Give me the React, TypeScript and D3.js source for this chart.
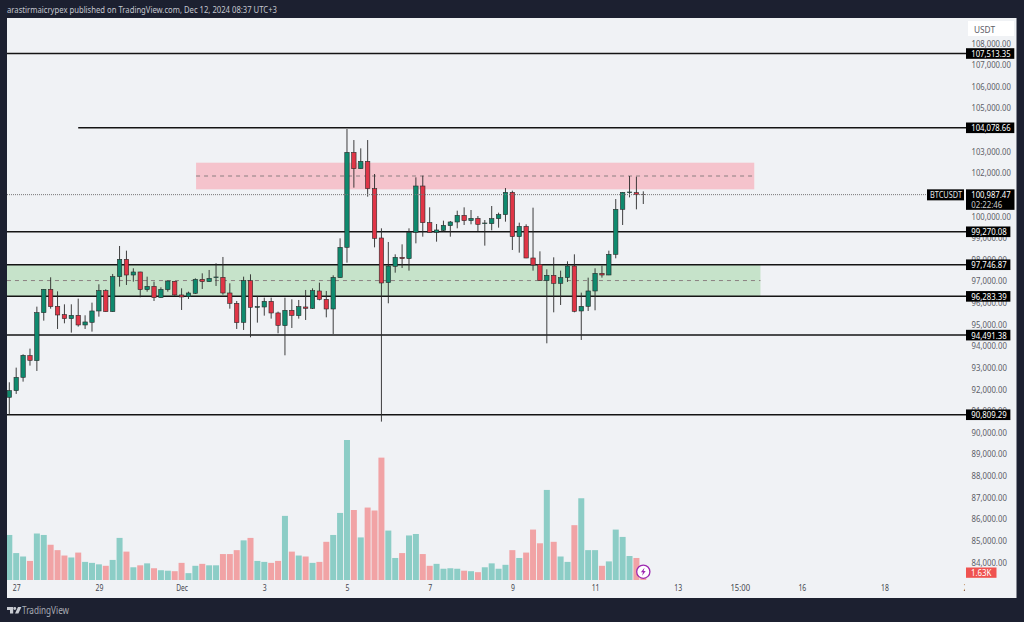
import React, { useEffect, useRef } from 'react';
import * as d3 from 'd3';

// BTCUSDT 4h candles
const opens = [91617,91925,92541,93543,93312,95531,96610,95824,95439,95254,95408,94961,95084,95608,96548,95577,97195,97997,97272,97411,96594,96748,96224,96594,96980,96348,96271,96425,97072,96964,97149,97165,96440,95963,95084,97010,95777,95793,96055,95516,94930,95639,95392,95793,95731,96533,96147,95700,97149,98551,102943,102188,102527,101264,98983,96918,97673,98089,98027,99245,101387,99692,99245,99338,99553,99723,100031,99784,99892,99646,99646,99877,100062,101094,99044,99522,98058,97765,97010,97257,96887,97149,97688,95608,95824,96533,97349,97272,98228,100308,101079,101079,100995];
const closes = [91925,92541,93558,93327,95531,96610,95808,95423,95254,95408,94961,95100,95608,96548,95577,97195,97997,97272,97411,96594,96748,96224,96610,96995,96348,96255,96440,97072,96964,97118,97180,96440,95963,95069,97010,95777,95808,96055,95516,94945,95639,95408,95808,95731,96548,96147,95700,97165,98551,102943,102188,102527,101264,98967,96902,97688,98089,98027,99245,101387,99692,99245,99353,99568,99723,100031,99784,99892,99615,99676,99877,100062,101094,99044,99522,98058,97735,97010,97257,96887,97149,97688,95593,95824,96533,97349,97272,98228,100308,101094,101109,100986,100987.47];
const highs = [92310,92988,93605,93867,95808,96620,97165,96517,95916,95916,96178,95408,95993,96841,96610,97319,98613,98397,97581,97420,97195,96964,96702,97005,96990,96656,96502,97118,97349,97504,97812,98105,96887,96070,97195,97303,96302,96224,96224,95577,96224,96147,96117,96579,96656,96918,96533,97257,98967,104022,103513,103128,103513,101942,99430,98798,98228,98690,99430,101787,101864,100401,99630,99784,99769,100246,100401,100277,100000,99815,100462,100154,101294,101171,99692,99615,100385,98366,97534,98089,97473,97904,98228,96456,97149,97581,97704,98397,100786,101110,101849,101818,101140];
const lows = [90800,91771,92341,93081,92834,95161,95716,94776,95038,94607,94884,94776,94653,95346,95570,95570,96733,96810,96964,96240,96502,96070,96215,96502,96317,95654,96163,96394,96625,96949,96764,96363,95716,94776,94730,94391,95069,95392,95254,94576,93558,94822,95254,95192,95700,96101,95315,94545,97140,97842,101310,102180,100894,98551,90492,95963,97380,97596,97473,98736,99044,99235,98813,99276,99044,99430,99584,99615,99306,98629,99337,99461,99738,98428,98305,98050,97473,97000,94113,95546,95885,96949,95546,94267,95608,95639,97149,97265,98043,99584,100863,100308,100555];
// volume in thousands of BTC
const volumes = [9.2,5.5,4.8,3.9,9.5,9.2,7.2,6.1,5.0,4.6,5.6,3.7,3.5,3.2,2.9,4.1,8.6,5.8,2.6,3.0,3.4,2.4,2.0,1.9,1.8,3.5,1.4,2.9,3.3,3.0,3.0,5.3,5.3,6.1,8.1,8.6,3.9,3.7,3.5,3.9,13.1,5.8,5.0,4.8,3.5,3.7,7.8,9.2,13.7,28.6,14.3,8.7,14.8,14.2,25.0,10.1,4.5,5.5,9.1,9.4,5.3,2.9,3.3,2.3,2.4,2.3,1.9,1.8,1.6,2.6,3.4,2.3,3.1,6.1,4.5,5.6,10.3,7.5,18.4,7.8,4.8,3.7,11.2,16.7,6.1,6.1,2.9,3.8,10.3,8.8,4.9,4.5,1.63];

// drawn horizontal levels: price and the bar index where the line starts
const levelPrices = [107513.35,104078.66,99270.08,97746.87,96283.39,94491.38,90809.29];
const levelStarts = [-1,10,-1,-1,-1,-1,-1];

const priceTicks = d3.range(84000, 108001, 1000);
const timeTickIndex = [1,13,25,37,49,61,73,85,97,106,115,127,139];
const timeTickLabels = ['27','29','Dec','3','5','7','9','11','13','15:00','16','18','20'];

const lastPrice = 100987.47;
const countdown = '02:22:46';
const lastVolumeLabel = '1.63K';
const header = 'arastirmaicrypex published on TradingView.com, Dec 12, 2024 08:37 UTC+3';

const UP = '#0f8a6e';
const DOWN = '#e03546';
const WICK = '#2a2a2a';
const UP_VOL = '#8ccdc6';
const DOWN_VOL = '#f1a3a5';
const FONT = '"Noto Sans", sans-serif';
const CHAR_W = 3.93; // the reference font runs narrow, so text is squeezed to this per character

export default function App() {
  const ref = useRef<SVGSVGElement>(null);

  useEffect(() => {
    const svg = d3.select(ref.current);
    svg.selectAll('*').remove();

    const fmt = d3.format(',.2f');
    const x = d3.scaleLinear().domain([0, 92]).range([9.3, 643.3]);
    const y = d3.scaleLinear().domain([84000, 108000]).range([562, 43]);
    const yVol = d3.scaleLinear().domain([0, 28.6]).range([580, 440]);

    const plotL = 7, plotR = 965, panelR = 1016.5, panelT = 18, panelB = 598;

    const label = (xx: number, yy: number, s: string, fill: string, size: number, w: number, anchor = 'start') =>
      svg.append('text').attr('x', xx).attr('y', yy).attr('fill', fill).attr('text-anchor', anchor)
        .attr('textLength', w).attr('lengthAdjust', 'spacingAndGlyphs')
        .style('font', `${size}px ${FONT}`).text(s);

    svg.append('rect').attr('width', 1024).attr('height', 622).attr('fill', '#1c2030');
    svg.append('rect').attr('x', plotL).attr('y', panelT).attr('width', panelR - plotL).attr('height', panelB - panelT).attr('fill', '#f0f2f5');

    svg.append('clipPath').attr('id', 'plot').append('rect')
      .attr('x', plotL).attr('y', panelT).attr('width', plotR - plotL).attr('height', panelB - panelT);

    label(7, 13, header, '#c4c7cf', 9.4, 270);

    const g = svg.append('g').attr('clip-path', 'url(#plot)');

    // zones
    const zone = (i0: number, i1: number, top: number, bot: number, fill: string) => {
      const mid = (top + bot) / 2;
      g.append('rect').attr('x', x(i0)).attr('width', x(i1) - x(i0))
        .attr('y', y(top)).attr('height', y(bot) - y(top)).attr('fill', fill);
      g.append('line').attr('x1', x(i0)).attr('x2', x(i1)).attr('y1', y(mid)).attr('y2', y(mid))
        .attr('stroke', '#8a7f80').attr('stroke-dasharray', '4 4').attr('stroke-width', 1);
    };
    zone(27.1, 108.1, 102465, 101233, '#f5c3cc');
    zone(-1.5, 109, 97746.87, 96283.39, '#c6e3ca');

    // last price dotted line
    svg.append('line').attr('x1', plotL).attr('x2', 926).attr('y1', y(lastPrice)).attr('y2', y(lastPrice))
      .attr('stroke', '#777').attr('stroke-dasharray', '1 1').attr('stroke-width', 1);

    // volume
    g.selectAll('rect.vol').data(volumes).enter().append('rect')
      .attr('class', 'vol')
      .attr('x', (_, i) => x(i) - 3)
      .attr('width', 6)
      .attr('y', d => yVol(d))
      .attr('height', d => yVol(0) - yVol(d))
      .attr('fill', (_, i) => closes[i] >= opens[i] ? UP_VOL : DOWN_VOL);

    // levels
    g.selectAll('line.level').data(levelPrices).enter().append('line')
      .attr('class', 'level')
      .attr('x1', (_, i) => levelStarts[i] < 0 ? plotL : x(levelStarts[i]))
      .attr('x2', plotR)
      .attr('y1', d => y(d)).attr('y2', d => y(d))
      .attr('stroke', '#141414').attr('stroke-width', 1.5);
    svg.selectAll('line.levelStub').data(levelPrices).enter().append('line')
      .attr('class', 'levelStub')
      .attr('x1', plotR).attr('x2', 967)
      .attr('y1', d => y(d)).attr('y2', d => y(d))
      .attr('stroke', '#141414').attr('stroke-width', 1.5);

    // candles
    const candles = g.append('g').selectAll('g').data(opens).enter().append('g');
    candles.append('line')
      .attr('x1', (_, i) => x(i)).attr('x2', (_, i) => x(i))
      .attr('y1', (_, i) => y(highs[i])).attr('y2', (_, i) => y(lows[i]))
      .attr('stroke', WICK).attr('stroke-width', 0.9);
    candles.append('rect')
      .attr('x', (_, i) => x(i) - 2.2)
      .attr('width', 4.4)
      .attr('y', (_, i) => y(Math.max(opens[i], closes[i])))
      .attr('height', (_, i) => Math.abs(y(opens[i]) - y(closes[i])))
      .attr('fill', (_, i) => closes[i] >= opens[i] ? UP : DOWN)
      .attr('stroke', WICK).attr('stroke-width', 0.6);

    // price axis
    const yAxis = d3.axisRight(y).tickValues(priceTicks).tickSize(0).tickPadding(0).tickFormat(d => fmt(+d));
    const ya = svg.append('g').attr('transform', 'translate(971.5,0)').call(yAxis as any);
    ya.select('.domain').remove();
    ya.selectAll('text').attr('fill', '#5d6068').style('font', `9.6px ${FONT}`)
      .attr('textLength', (d: any) => fmt(d).length * CHAR_W).attr('lengthAdjust', 'spacingAndGlyphs');

    // time axis
    const xAxis = d3.axisBottom(x).tickValues(timeTickIndex).tickSize(0).tickPadding(0)
      .tickFormat((_, i) => timeTickLabels[i]);
    const xa = g.append('g').attr('transform', 'translate(0,584.5)').call(xAxis as any);
    xa.select('.domain').remove();
    xa.selectAll('text').attr('fill', '#44474f').style('font', `9.6px ${FONT}`)
      .attr('textLength', (_: any, i: number) => timeTickLabels[i].length * CHAR_W).attr('lengthAdjust', 'spacingAndGlyphs');

    // USDT box
    svg.append('rect').attr('x', 968).attr('y', 21).attr('width', 46).attr('height', 15).attr('fill', '#fff');
    label(974, 33, 'USDT', '#5d6068', 9.8, 21);

    // level tags
    levelPrices.forEach(p => {
      const s = fmt(p);
      svg.append('rect').attr('x', 966).attr('y', y(p) - 5.3)
        .attr('width', s.length * CHAR_W + 9).attr('height', 10.6).attr('fill', '#000');
      label(971.3, y(p) + 3.4, s, '#fff', 9.6, s.length * CHAR_W);
    });

    // last price tag
    const ly = y(lastPrice);
    svg.append('rect').attr('x', 927).attr('y', ly - 5.3).attr('width', 37).attr('height', 11).attr('fill', '#000');
    label(930, ly + 3.4, 'BTCUSDT', '#e8e8e8', 9.4, 32);
    svg.append('rect').attr('x', 966).attr('y', ly - 5.3).attr('width', 48.5).attr('height', 20.5).attr('fill', '#000');
    label(971.3, ly + 3.4, fmt(lastPrice), '#fff', 9.6, 39.3);
    label(971.3, ly + 13, countdown, '#ccc', 9.4, 31);

    // last volume tag
    svg.append('rect').attr('x', 966).attr('y', 567.5).attr('width', 30.5).attr('height', 10.3).attr('fill', '#ef5350');
    label(971, 575.8, lastVolumeLabel, '#fff', 9.6, 20.5);

    // lightning marker on the last bar
    const ic = svg.append('g').attr('transform', `translate(${x(92)},571.7)`);
    ic.append('circle').attr('r', 6.6).attr('fill', '#fff').attr('stroke', '#9c27b0').attr('stroke-width', 1.3);
    ic.append('path').attr('d', 'M1.2,-4 L-2.4,0.6 L-0.3,0.6 L-1.2,4 L2.4,-0.8 L0.3,-0.8 Z').attr('fill', '#9c27b0');

    // logo
    const logo = svg.append('g').attr('transform', 'translate(7,607)').attr('fill', '#c9ccd3');
    logo.append('path').attr('d', 'M0,0 H6.2 V6.4 H3 V3 H0 Z');
    logo.append('circle').attr('cx', 7.8).attr('cy', 1.5).attr('r', 1.4);
    logo.append('path').attr('d', 'M11,0 H14.4 L11.4,6.4 H8 Z');
    label(22, 614, 'TradingView', '#a9acb4', 10.6, 47);
  }, []);

  return <svg ref={ref} width={1024} height={622} style={{ position: 'absolute', left: 0, top: 0, display: 'block' }} />;
}
